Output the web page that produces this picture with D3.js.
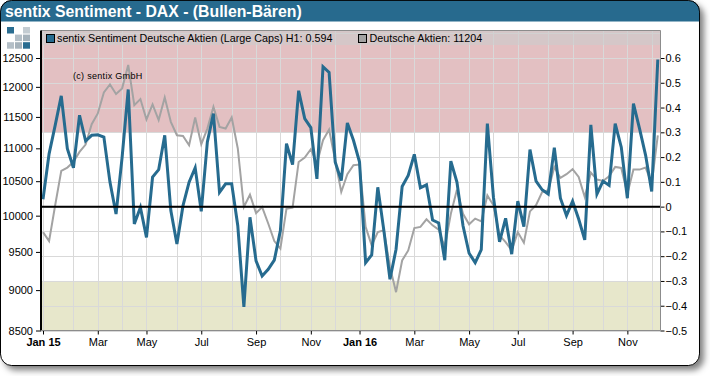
<!DOCTYPE html>
<html><head><meta charset="utf-8">
<script src="https://cdn.jsdelivr.net/npm/d3@7"></script>
<style>
html,body{margin:0;padding:0;background:#fff}
svg{display:block}
text{font-family:"Liberation Sans",Arial,sans-serif}
</style></head><body><div id="c"></div>
<script>
const titleText = "sentix Sentiment - DAX - (Bullen-Bären)";
const legendSentiment = "sentix Sentiment Deutsche Aktien (Large Caps) H1: 0.594";
const legendDax = "Deutsche Aktien: 11204";
const copyrightText = "(c) sentix GmbH";
const sentiment = [.03,.213,.328,.447,.234,.157,.369,.265,.288,.29,.281,.099,-.03,.2,.473,-.07,-.003,-.124,.119,.149,.288,-.016,-.151,.004,.099,.157,
-.019,.261,.376,.058,.092,.092,-.077,-.405,-.043,-.219,-.28,-.253,-.216,-.097,.254,.17,.468,.355,.319,.112,.565,.542,.18,.105,.338,.268,
.18,-.226,-.195,.078,-.097,-.293,-.172,.081,.126,.211,.076,.088,-.054,-.066,-.216,.184,.099,-.077,-.188,-.226,-.174,.335,.038,-.142,-.047,-.192,
.022,-.081,.23,.103,.068,.051,.238,.034,-.036,.022,-.05,-.134,.33,.051,.103,.086,.335,.24,.034,.416,.315,.207,.061,.594];
const dax = [9770,9646,10148,10654,10704,10790,10945,11059,11382,11556,11906,12041,11878,11974,12377,11693,11794,11459,11705,11448,11821,11420,11206,11195,11048,11491,
11064,11312,11666,11339,11312,11491,10997,10123,10301,10036,10123,9890,9646,9543,10099,10114,10790,10857,10986,10765,11127,11297,10816,10341,10604,10739,
10750,9842,9588,9770,9794,9299,8974,9386,9520,9825,9842,9948,9864,9803,9565,10026,10375,10026,9878,9958,9919,10291,10148,9725,9633,9520,
9770,9624,10061,10148,10341,10365,10714,10549,10604,10679,10564,10268,10629,10524,10504,10574,10714,10699,10316,10674,10674,10704,10464,11204];
const leftTicks = [8500,9000,9500,10000,10500,11000,11500,12000,12500];
const rightTicks = [-0.5,-0.4,-0.3,-0.2,-0.1,0,0.1,0.2,0.3,0.4,0.5,0.6];
const bandHigh = 0.3, bandLow = -0.3;

const W=710,H=376, L=41,R=660.5,T=30.5,B=330.5;
const weeks = d3.utcFriday.range(new Date(Date.UTC(2015,0,2)), new Date(Date.UTC(2016,11,10)));
const x = d3.scaleUtc().domain([weeks[0],weeks[101]]).range([43,657.8]);
const yS = d3.scaleLinear().domain([-0.5,0.6]).range([B,58]);
const yD = d3.scaleLog().domain([8500,12500]).range([B,58]);
const firstOfMonth = weeks.filter(d=>d.getUTCDate()<=7);
const labelMonths = firstOfMonth.filter(d=>d.getUTCMonth()%2===0);

const svg = d3.select("#c").append("svg").attr("width",W).attr("height",H);
const defs = svg.append("defs");
const f = defs.append("filter").attr("id","sh").attr("x","-5%").attr("y","-5%").attr("width","110%").attr("height","112%");
f.append("feDropShadow").attr("dx",4).attr("dy",4).attr("stdDeviation",3).attr("flood-color","#000").attr("flood-opacity",0.5);
defs.append("clipPath").attr("id","pc").append("rect").attr("x",L).attr("y",T).attr("width",R-L).attr("height",B-T);
defs.append("clipPath").attr("id","tc").append("rect").attr("x",0.5).attr("y",0.5).attr("width",699).attr("height",21);

svg.append("rect").attr("x",0.5).attr("y",0.5).attr("width",689).attr("height",345).attr("transform","scale(1.0145,1.058)").attr("rx",11).attr("fill","#fff").attr("stroke","#000").attr("vector-effect","non-scaling-stroke").attr("filter","url(#sh)");
svg.append("rect").attr("x",0.5).attr("y",0.5).attr("width",699).attr("height",365).attr("rx",11).attr("fill","#276a8e").attr("stroke","#000").attr("clip-path","url(#tc)");
svg.append("text").attr("x",5).attr("y",17).attr("fill","#fff").attr("font-size",15.8).attr("font-weight","bold").text(titleText);

// logo
const logo=[[0,0,"#2a6d91"],[2,0,"#c3ccd2"],[1,1,"#b4bfc7"],[2,1,"#a5b2bb"],[0,2,"#b4bfc7"],[1,2,"#a5b2bb"],[2,2,"#2a6d91"]];
svg.append("g").selectAll("rect").data(logo).join("rect")
 .attr("x",d=>7+d[0]*8).attr("y",d=>27+d[1]*7.6).attr("width",7).attr("height",6.5).attr("fill",d=>d[2]);

const plot=svg.append("g");
plot.append("rect").attr("x",L).attr("y",T).attr("width",R-L).attr("height",yS(bandHigh)-T).attr("fill","#e3c0c2");
plot.append("rect").attr("x",L).attr("y",yS(bandLow)).attr("width",R-L).attr("height",B-yS(bandLow)).attr("fill","#e7e7cb");
plot.append("g").selectAll("line").data(firstOfMonth).join("line")
 .attr("x1",d=>Math.round(x(d))+.5).attr("x2",d=>Math.round(x(d))+.5).attr("y1",T).attr("y2",B).attr("stroke","#d9d9d9").attr("stroke-width",1);
plot.append("g").selectAll("line").data(rightTicks.concat([0.7])).join("line")
 .attr("x1",L).attr("x2",R).attr("y1",d=>Math.round(yS(d))+.5).attr("y2",d=>Math.round(yS(d))+.5).attr("stroke","#d9d9d9").attr("stroke-width",1);
plot.append("rect").attr("x",L).attr("y",T).attr("width",R-L).attr("height",14.5).attr("fill","#ccc").attr("fill-opacity",0.6);

const lineS=d3.line().x((d,i)=>x(weeks[i])).y(d=>yS(d));
const lineD=d3.line().x((d,i)=>x(weeks[i])).y(d=>yD(d));
const marks=svg.append("g").attr("clip-path","url(#pc)");
marks.append("path").attr("d",lineD(dax)).attr("fill","none").attr("stroke","#a3a3a3").attr("stroke-width",2);
marks.append("path").attr("d",lineS(sentiment)).attr("fill","none").attr("stroke","#266b8f").attr("stroke-width",3);
svg.append("line").attr("x1",L).attr("x2",R).attr("y1",yS(0)).attr("y2",yS(0)).attr("stroke","#000").attr("stroke-width",2);

// frame
svg.append("line").attr("x1",L).attr("x2",R).attr("y1",T).attr("y2",T).attr("stroke","#8c8c8c");

// axes
const fs=11;
const gl=svg.append("g").attr("transform",`translate(${L},0)`).call(d3.axisLeft(yD).tickValues(leftTicks).tickFormat(d3.format("d")).tickSize(5).tickPadding(3));
gl.select(".domain").remove();
gl.append("line").attr("x1",0).attr("x2",0).attr("y1",T).attr("y2",B).attr("stroke","#000").attr("stroke-width",2);
const gr=svg.append("g").attr("transform",`translate(${R},0)`).call(d3.axisRight(yS).tickValues(rightTicks).tickFormat(d=>d===0?"0":d3.format(".1f")(d)).tickSize(4).tickPadding(1));
gr.select(".domain").remove();
gr.append("line").attr("x1",0).attr("x2",0).attr("y1",T).attr("y2",B).attr("stroke","#8c8c8c");
const gb=svg.append("g").attr("transform",`translate(0,${B})`).call(d3.axisBottom(x).tickValues(labelMonths)
  .tickFormat(d=>{const m=d3.utcFormat("%b")(d);return d.getUTCMonth()===0?m+" "+d3.utcFormat("%y")(d):m;}).tickSize(4).tickPadding(4));
gb.select(".domain").remove();
gb.append("line").attr("x1",L).attr("x2",R).attr("y1",0).attr("y2",0).attr("stroke","#8c8c8c");
[gl,gr,gb].forEach(g=>{g.attr("font-family",null).attr("font-size",null);
  g.selectAll("text").attr("font-size",fs).attr("fill","#000");
  g.selectAll(".tick line").attr("stroke","#000");});
gb.selectAll("text").attr("font-size",11).filter(d=>d.getUTCMonth()===0).attr("font-weight","bold");

// legend
const lg=svg.append("g").attr("font-size",10.75).attr("fill","#000");
lg.append("rect").attr("x",46.5).attr("y",34.5).attr("width",8).attr("height",8).attr("fill","#266b8f").attr("stroke","#000");
lg.append("text").attr("x",57).attr("y",42).text(legendSentiment);
lg.append("rect").attr("x",358.5).attr("y",34.5).attr("width",8).attr("height",8).attr("fill","#a3a3a3").attr("stroke","#000");
lg.append("text").attr("x",369.5).attr("y",42).text(legendDax);
svg.append("text").attr("x",73).attr("y",79).attr("font-size",9).attr("fill","#000").attr("letter-spacing",0.3).text(copyrightText);
</script></body></html>
